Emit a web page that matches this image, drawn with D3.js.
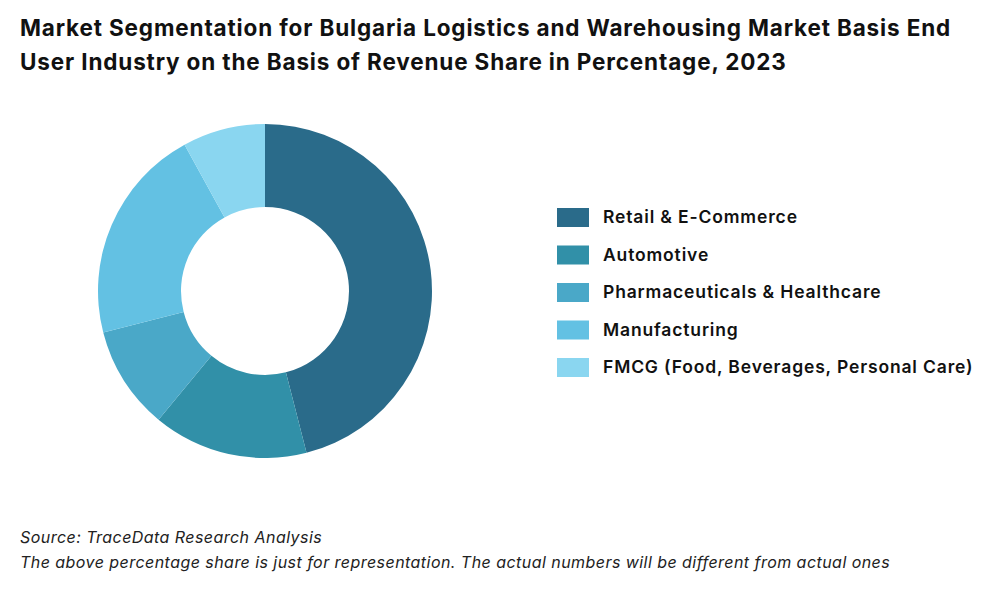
<!DOCTYPE html>
<html><head><meta charset="utf-8">
<script src="https://cdn.jsdelivr.net/npm/d3@7"></script>
<style>body{margin:0;background:#fff}</style>
</head><body><svg id="c" width="1000" height="600"></svg>
<script>
const categories = ["Retail & E-Commerce", "Automotive", "Pharmaceuticals & Healthcare", "Manufacturing", "FMCG (Food, Beverages, Personal Care)"];
const shares = [46, 15, 10, 21, 8];
const colors = ["#2a6b8a", "#3190a8", "#4aa8c8", "#63c1e3", "#8ad6f0"];
const titleLines = ["Market Segmentation for Bulgaria Logistics and Warehousing Market Basis End", "User Industry on the Basis of Revenue Share in Percentage, 2023"];
const notes = ["Source: TraceData Research Analysis", "The above percentage share is just for representation. The actual numbers will be different from actual ones"];

const svg = d3.select("#c");
const font = "Inter, sans-serif";

svg.selectAll(".title").data(titleLines).enter().append("text")
  .attr("x", 20).attr("y", (d, i) => 36 + i * 34)
  .attr("font-family", font).attr("font-weight", 700).attr("font-size", 22.5).attr("letter-spacing", 0.85).attr("fill", "#111")
  .text(d => d);

const data = categories.map((c, i) => ({ c, v: shares[i], col: colors[i] }));
const pie = d3.pie().value(d => d.v).sort(null);
const arc = d3.arc().innerRadius(84).outerRadius(167);
svg.append("g").attr("transform", "translate(265,291)")
  .selectAll("path").data(pie(data)).enter().append("path")
  .attr("d", arc).attr("fill", d => d.data.col);

const legend = svg.append("g").attr("transform", "translate(557,217)");
const rows = legend.selectAll("g").data(data).enter().append("g")
  .attr("transform", (d, i) => `translate(0,${i * 37.5})`);
rows.append("rect").attr("x", 0).attr("y", -9).attr("width", 32).attr("height", 19).attr("fill", d => d.col);
rows.append("text").attr("x", 46).attr("y", 6)
  .attr("font-family", font).attr("font-weight", 600).attr("font-size", 17.5).attr("letter-spacing", 0.85).attr("fill", "#111")
  .text(d => d.c);

svg.selectAll(".note").data(notes).enter().append("text")
  .attr("x", 20).attr("y", (d, i) => 543 + i * 25)
  .attr("font-family", font).attr("font-style", "italic").attr("font-size", 16).attr("letter-spacing", 0.45).attr("fill", "#222")
  .text(d => d);
</script></body></html>
